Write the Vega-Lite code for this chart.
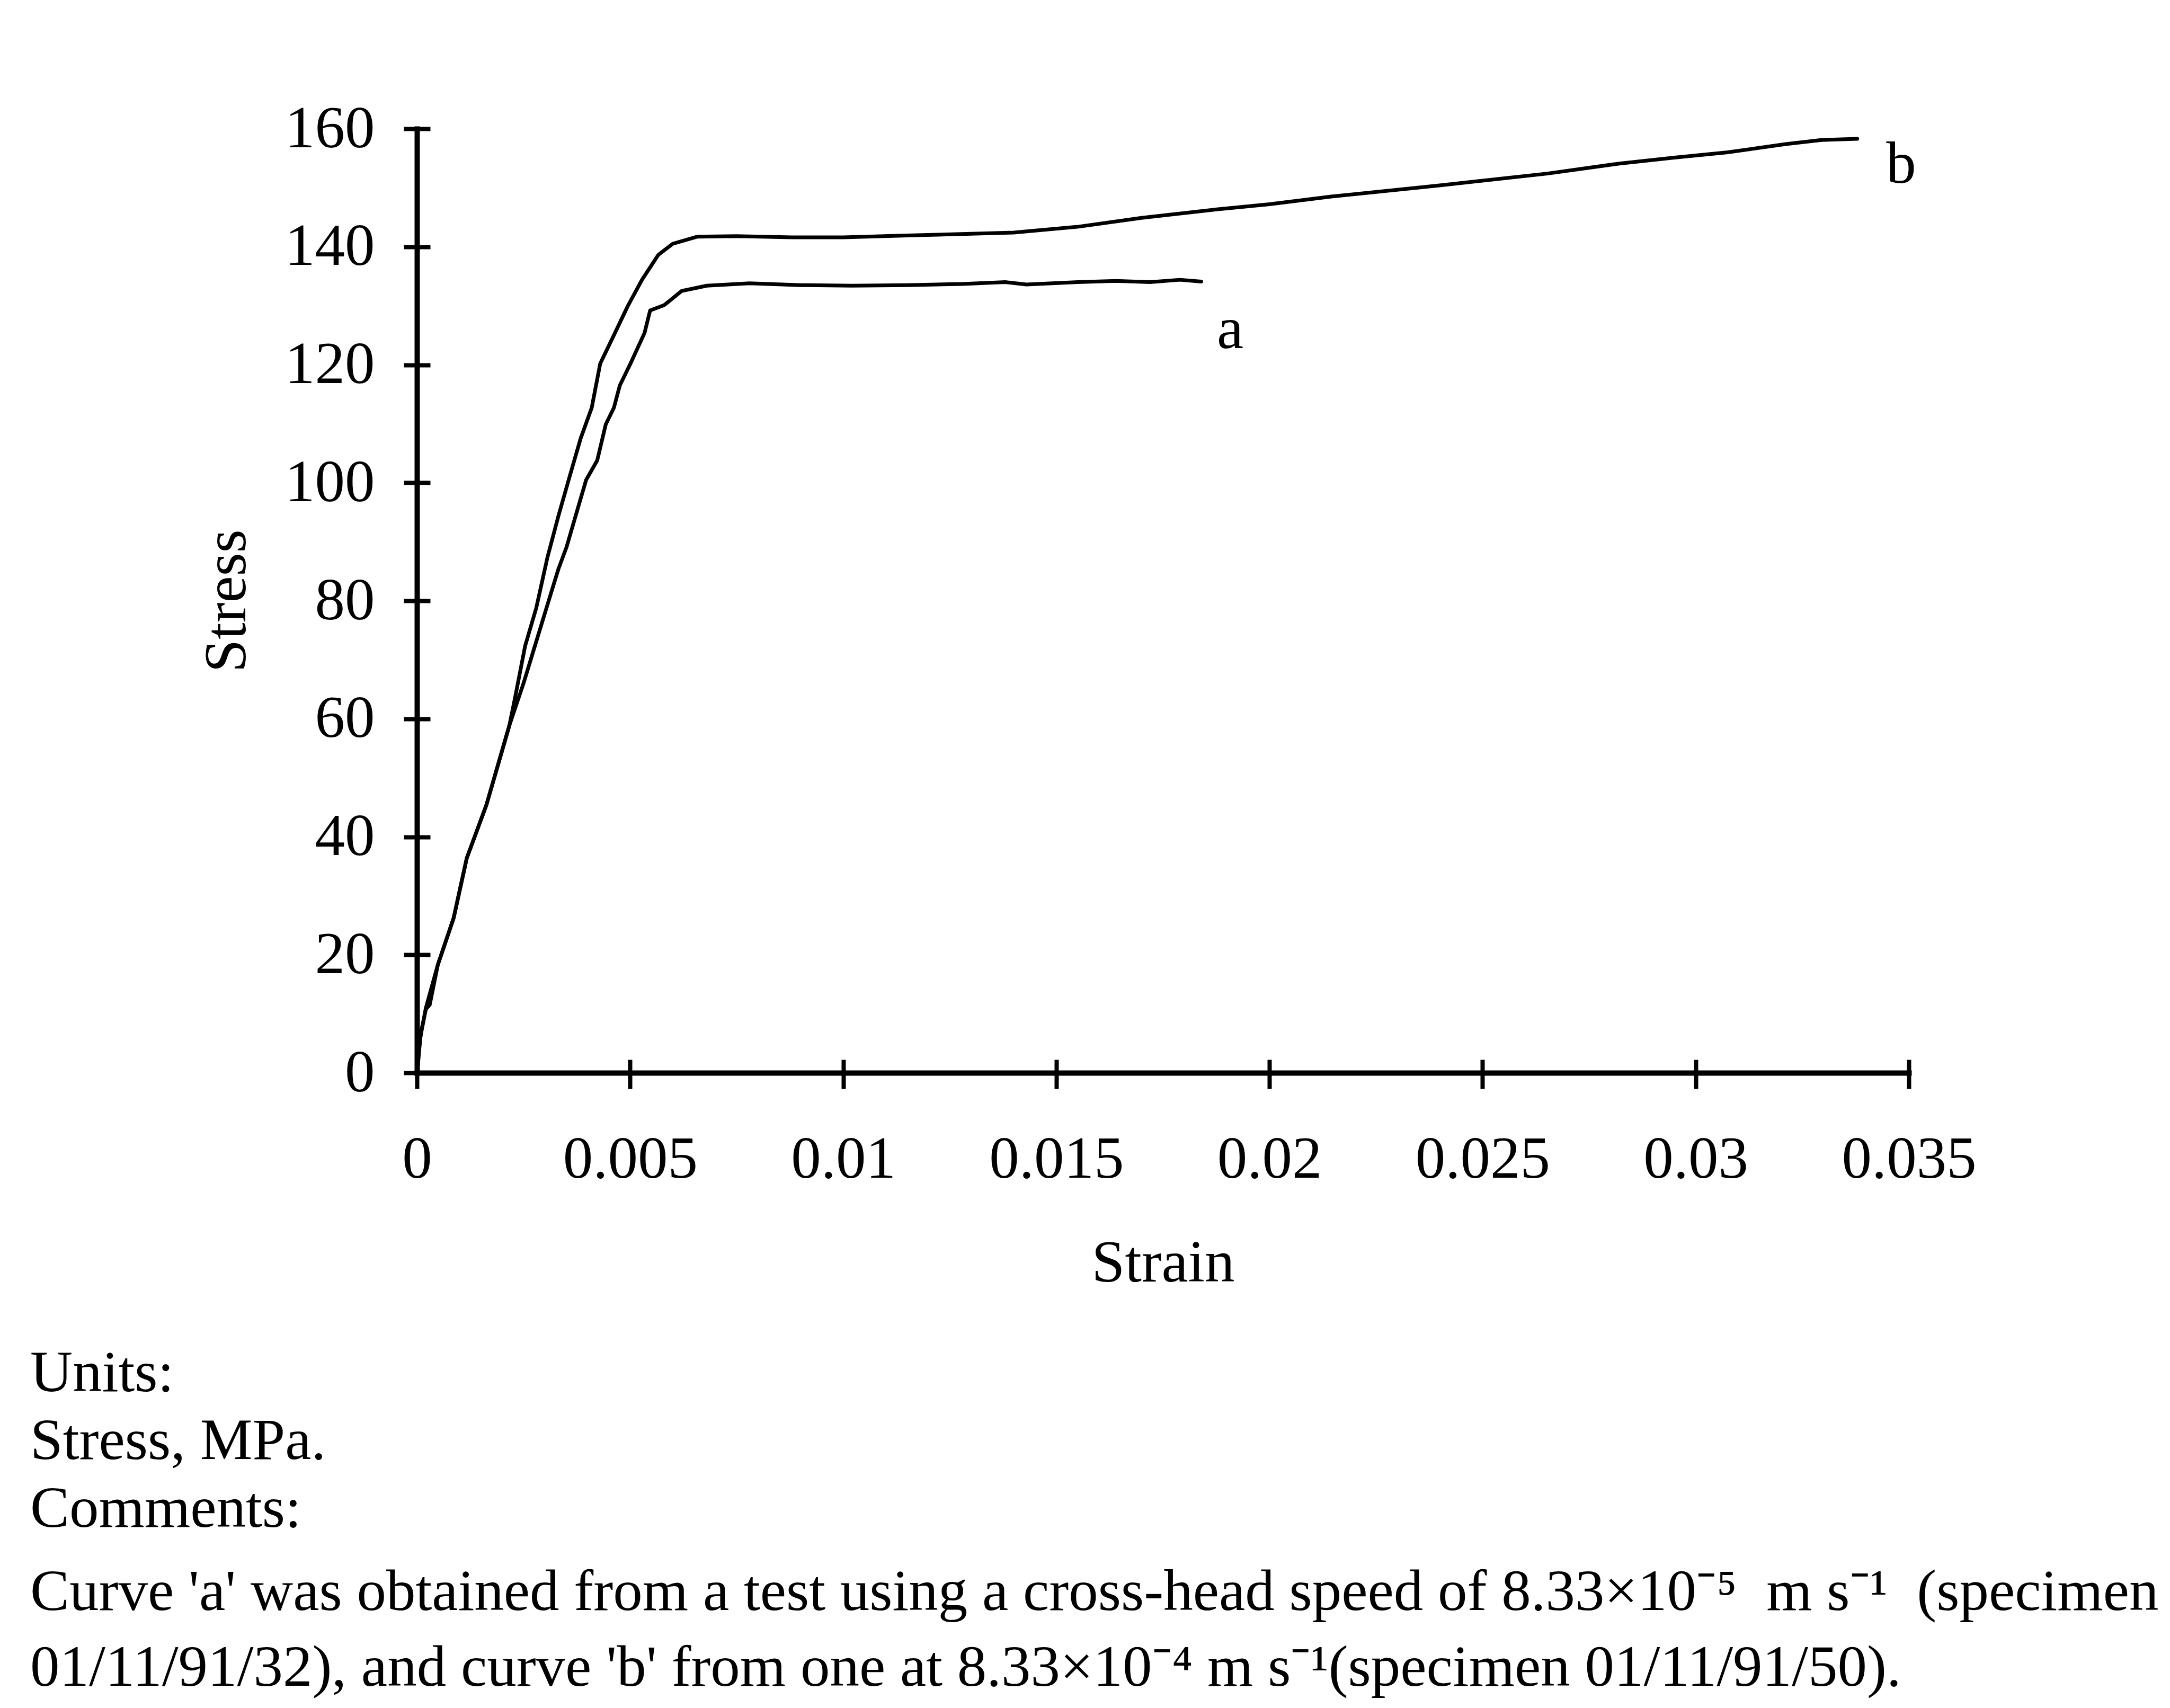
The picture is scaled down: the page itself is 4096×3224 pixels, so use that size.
{
  "$schema": "https://vega.github.io/schema/vega-lite/v6.json",
  "width": 2816,
  "height": 1782,
  "autosize": {"type": "none"},
  "padding": {"left": 787, "top": 243, "right": 493, "bottom": 1199},
  "background": "white",
  "config": {
    "font": "Liberation Serif",
    "view": {"stroke": null},
    "axis": {
      "grid": false,
      "domainColor": "black",
      "tickColor": "black",
      "labelColor": "black",
      "titleColor": "black",
      "labelFont": "Liberation Serif",
      "titleFont": "Liberation Serif",
      "labelFontSize": 113,
      "titleFontSize": 113,
      "titleFontWeight": "normal",
      "tickCap": "butt",
      "labelFlush": false,
      "labelOverlap": false,
      "labelLimit": 2000
    }
  },
  "title": {
    "text": ["Units:", "Stress, MPa.", "Comments:"],
    "subtitle": [
      "Curve 'a' was obtained from a test using a cross-head speed of 8.33×10⁻⁵\u00a0 m s⁻¹\u00a0 (specimen",
      "01/11/91/32), and curve 'b' from one at 8.33×10⁻⁴ m s⁻¹(specimen 01/11/91/50)."
    ],
    "orient": "bottom",
    "anchor": "start",
    "frame": "group",
    "offset": 97,
    "dx": -730,
    "baseline": "top",
    "font": "Liberation Serif",
    "fontSize": 111,
    "fontWeight": "normal",
    "color": "black",
    "lineHeight": 128,
    "limit": 0,
    "subtitleFont": "Liberation Serif",
    "subtitleFontSize": 111,
    "subtitleFontWeight": "normal",
    "subtitleColor": "black",
    "subtitleLineHeight": 143,
    "subtitlePadding": 46
  },
  "layer": [
    {
      "data": {
        "values": [
          {"curve": "a", "strain": 0.00003, "stress": 3},
          {"curve": "a", "strain": 0.0001, "stress": 7},
          {"curve": "a", "strain": 0.00021, "stress": 10.8},
          {"curve": "a", "strain": 0.0003, "stress": 11.5},
          {"curve": "a", "strain": 0.00049, "stress": 18.3},
          {"curve": "a", "strain": 0.00086, "stress": 26.2},
          {"curve": "a", "strain": 0.00117, "stress": 36.4},
          {"curve": "a", "strain": 0.00163, "stress": 45.4},
          {"curve": "a", "strain": 0.00217, "stress": 58.9},
          {"curve": "a", "strain": 0.0025, "stress": 66},
          {"curve": "a", "strain": 0.00277, "stress": 72.4},
          {"curve": "a", "strain": 0.00312, "stress": 80.7},
          {"curve": "a", "strain": 0.00332, "stress": 85.4},
          {"curve": "a", "strain": 0.00351, "stress": 89.1},
          {"curve": "a", "strain": 0.00378, "stress": 95.8},
          {"curve": "a", "strain": 0.00397, "stress": 100.5},
          {"curve": "a", "strain": 0.00423, "stress": 103.8},
          {"curve": "a", "strain": 0.00443, "stress": 109.9},
          {"curve": "a", "strain": 0.00462, "stress": 112.7},
          {"curve": "a", "strain": 0.00476, "stress": 116.5},
          {"curve": "a", "strain": 0.00501, "stress": 120.2},
          {"curve": "a", "strain": 0.00534, "stress": 125.4},
          {"curve": "a", "strain": 0.00547, "stress": 129.2},
          {"curve": "a", "strain": 0.0058, "stress": 130.1},
          {"curve": "a", "strain": 0.00621, "stress": 132.5},
          {"curve": "a", "strain": 0.0068, "stress": 133.4},
          {"curve": "a", "strain": 0.0078, "stress": 133.8},
          {"curve": "a", "strain": 0.009, "stress": 133.5},
          {"curve": "a", "strain": 0.0102, "stress": 133.4},
          {"curve": "a", "strain": 0.0115, "stress": 133.5},
          {"curve": "a", "strain": 0.0128, "stress": 133.7},
          {"curve": "a", "strain": 0.0138, "stress": 134.0},
          {"curve": "a", "strain": 0.0143, "stress": 133.6},
          {"curve": "a", "strain": 0.0155, "stress": 134.0},
          {"curve": "a", "strain": 0.0164, "stress": 134.2},
          {"curve": "a", "strain": 0.0172, "stress": 134.0},
          {"curve": "a", "strain": 0.0179, "stress": 134.4},
          {"curve": "a", "strain": 0.0184, "stress": 134.1},
          {"curve": "b", "strain": 0.00002, "stress": 1},
          {"curve": "b", "strain": 0.00008, "stress": 6},
          {"curve": "b", "strain": 0.00021, "stress": 11},
          {"curve": "b", "strain": 0.00049, "stress": 18.3},
          {"curve": "b", "strain": 0.00086, "stress": 26.2},
          {"curve": "b", "strain": 0.00117, "stress": 36.4},
          {"curve": "b", "strain": 0.00163, "stress": 45.4},
          {"curve": "b", "strain": 0.00217, "stress": 58.9},
          {"curve": "b", "strain": 0.0023, "stress": 63.5},
          {"curve": "b", "strain": 0.00254, "stress": 72.4},
          {"curve": "b", "strain": 0.0028, "stress": 78.8},
          {"curve": "b", "strain": 0.00306, "stress": 87.3},
          {"curve": "b", "strain": 0.00332, "stress": 94.4},
          {"curve": "b", "strain": 0.00358, "stress": 101},
          {"curve": "b", "strain": 0.00384, "stress": 107.5},
          {"curve": "b", "strain": 0.0041, "stress": 112.7},
          {"curve": "b", "strain": 0.0043, "stress": 120.2},
          {"curve": "b", "strain": 0.00462, "stress": 125},
          {"curve": "b", "strain": 0.00495, "stress": 130},
          {"curve": "b", "strain": 0.00528, "stress": 134.4},
          {"curve": "b", "strain": 0.00566, "stress": 138.6},
          {"curve": "b", "strain": 0.006, "stress": 140.5},
          {"curve": "b", "strain": 0.00657, "stress": 141.7},
          {"curve": "b", "strain": 0.0075, "stress": 141.8},
          {"curve": "b", "strain": 0.0088, "stress": 141.6},
          {"curve": "b", "strain": 0.01, "stress": 141.6},
          {"curve": "b", "strain": 0.0115, "stress": 141.9},
          {"curve": "b", "strain": 0.013, "stress": 142.2},
          {"curve": "b", "strain": 0.014, "stress": 142.4},
          {"curve": "b", "strain": 0.01552, "stress": 143.4},
          {"curve": "b", "strain": 0.017, "stress": 144.9},
          {"curve": "b", "strain": 0.01873, "stress": 146.3},
          {"curve": "b", "strain": 0.02, "stress": 147.2},
          {"curve": "b", "strain": 0.02145, "stress": 148.5},
          {"curve": "b", "strain": 0.02399, "stress": 150.4},
          {"curve": "b", "strain": 0.02652, "stress": 152.4},
          {"curve": "b", "strain": 0.02821, "stress": 154.1},
          {"curve": "b", "strain": 0.0295, "stress": 155.1},
          {"curve": "b", "strain": 0.03075, "stress": 156.0},
          {"curve": "b", "strain": 0.03211, "stress": 157.4},
          {"curve": "b", "strain": 0.03295, "stress": 158.1},
          {"curve": "b", "strain": 0.03379, "stress": 158.3}
        ]
      },
      "mark": {"type": "line", "color": "black", "strokeWidth": 7, "strokeJoin": "round", "strokeCap": "round"},
      "encoding": {
        "x": {
          "field": "strain",
          "type": "quantitative",
          "scale": {"domain": [0, 0.035], "nice": false, "zero": false},
          "axis": {
            "orient": "bottom",
            "values": [0, 0.005, 0.01, 0.015, 0.02, 0.025, 0.03, 0.035],
            "format": "~g",
            "tickSize": 30,
            "tickWidth": 8,
            "domainWidth": 10,
            "domainCap": "square",
            "labelPadding": 78,
            "title": "Strain",
            "titleX": 1408,
            "titleY": 393,
            "titleAlign": "center",
            "titleBaseline": "alphabetic"
          }
        },
        "y": {
          "field": "stress",
          "type": "quantitative",
          "scale": {"domain": [0, 160], "nice": false, "zero": false},
          "axis": {
            "orient": "left",
            "values": [0, 20, 40, 60, 80, 100, 120, 140, 160],
            "tickSize": 25,
            "tickWidth": 8,
            "domainWidth": 10,
            "domainCap": "square",
            "labelPadding": 55,
            "title": "Stress",
            "titleX": -325,
            "titleY": 891,
            "titleAngle": 270,
            "titleAlign": "center",
            "titleBaseline": "alphabetic"
          }
        },
        "detail": {"field": "curve", "type": "nominal"}
      }
    },
    {
      "data": {
        "values": [
          {"strain": 0.01908, "stress": 122.8, "label": "a"},
          {"strain": 0.03482, "stress": 150.8, "label": "b"}
        ]
      },
      "mark": {"type": "text", "font": "Liberation Serif", "fontSize": 113, "color": "black", "align": "center", "baseline": "alphabetic"},
      "encoding": {
        "x": {
          "field": "strain",
          "type": "quantitative",
          "axis": {
            "orient": "bottom",
            "offset": -25,
            "values": [0, 0.005, 0.01, 0.015, 0.02, 0.025, 0.03, 0.035],
            "tickSize": 25,
            "tickWidth": 8,
            "domain": false,
            "labels": false,
            "title": null
          }
        },
        "y": {
          "field": "stress",
          "type": "quantitative",
          "axis": {
            "orient": "left",
            "offset": -25,
            "values": [0, 20, 40, 60, 80, 100, 120, 140, 160],
            "tickSize": 25,
            "tickWidth": 8,
            "domain": false,
            "labels": false,
            "title": null
          }
        },
        "text": {"field": "label"}
      }
    }
  ],
  "resolve": {"axis": {"x": "independent", "y": "independent"}}
}
